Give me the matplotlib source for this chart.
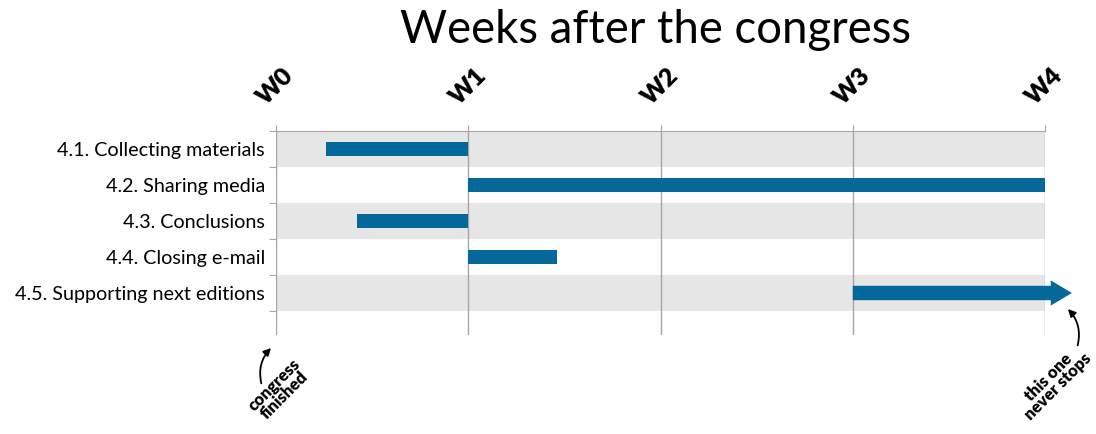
import matplotlib.pyplot as plt
from matplotlib.patches import FancyArrowPatch

plt.rcParams['font.family'] = ['Lato', 'DejaVu Sans']

# Данные
tasks = ["4.1. Collecting materials", "4.2. Sharing media", "4.3. Conclusions",
         "4.4. Closing e-mail", "4.5. Supporting next editions"]
starts = [0.26, 1.0, 0.42, 1.0, 3.0]
ends = [1.0, 4.0, 1.0, 1.46, 4.14]
open_ended = [False, False, False, False, True]
weeks = [0, 1, 2, 3, 4]
week_labels = ["W0", "W1", "W2", "W3", "W4"]

bar_color = "#05689b"
grid_color = "#a6a6a6"

fig = plt.figure(figsize=(10.96, 4.34), dpi=100)
ax = fig.add_axes([276 / 1096, 1 - 335 / 434, 769 / 1096, 204 / 434])
n = len(tasks)
ax.set_xlim(0, 4)
ax.set_ylim(n + 0.667, 0)

# Полосы фона
for i in range(n):
    if i % 2 == 0:
        ax.axhspan(i, i + 1, xmin=0, xmax=1, color="#e6e6e6", lw=0, zorder=0)

# Вертикальные линии недель
for w in weeks:
    ax.axvline(w, color=grid_color, lw=1, zorder=1)

# Задачи
for i, (s, e, op) in enumerate(zip(starts, ends, open_ended)):
    y = i + 0.5
    if op:
        ax.arrow(s, y, e - s, 0, width=0.4, head_width=0.7, head_length=0.11,
                 length_includes_head=True, color=bar_color, lw=0, zorder=3,
                 clip_on=False)
    else:
        ax.barh(y, e - s, left=s, height=0.4, color=bar_color, zorder=3)

# Оси
for sp in ["left", "right", "bottom"]:
    ax.spines[sp].set_visible(False)
ax.spines["top"].set_color(grid_color)
ax.xaxis.tick_top()
ax.set_xticks(weeks)
ax.set_xticklabels(week_labels, rotation=45, fontweight="heavy", fontsize=18,
                   ha="center", va="bottom", rotation_mode="default")
ax.tick_params(axis="x", length=4, color=grid_color, pad=12)
ax.set_yticks(range(n + 1))
ax.set_yticklabels([])
ax.set_yticks([i + 0.5 for i in range(n)], minor=True)
ax.set_yticklabels(tasks, minor=True, fontsize=14.2)
ax.tick_params(axis="y", which="major", length=5, color=grid_color, direction="out")
ax.tick_params(axis="y", which="minor", length=0, pad=8)

fig.text(655 / 1096, 1 - 30 / 434, "Weeks after the congress", fontsize=32.8,
         ha="center", va="center")

# Подписи
fig.text(279 / 1096, 1 - 390 / 434, "congress\nfinished", rotation=45,
         fontsize=12, fontweight="heavy", ha="center", va="center",
         linespacing=0.85)
fig.patches.append(FancyArrowPatch((262 / 1096, 1 - 386 / 434), (273 / 1096, 1 - 346 / 434),
                                   transform=fig.transFigure, connectionstyle="arc3,rad=-0.3",
                                   arrowstyle="-|>", mutation_scale=11, color="black", lw=1.3))
fig.text(1053 / 1096, 1 - 382 / 434, "this one\nnever stops", rotation=45,
         fontsize=12, fontweight="heavy", ha="center", va="center",
         linespacing=0.85)
fig.patches.append(FancyArrowPatch((1077 / 1096, 1 - 348 / 434), (1066 / 1096, 1 - 307 / 434),
                                   transform=fig.transFigure, connectionstyle="arc3,rad=0.3",
                                   arrowstyle="-|>", mutation_scale=11, color="black", lw=1.3))

fig.savefig("out.png", dpi=100)
